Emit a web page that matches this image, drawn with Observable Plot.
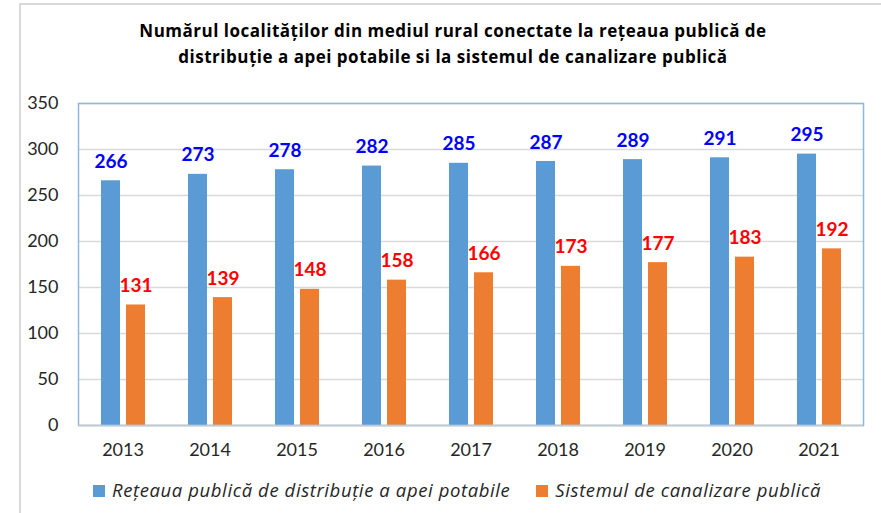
<!DOCTYPE html>
<html><head><meta charset="utf-8">
<script src="https://cdn.jsdelivr.net/npm/d3@7"></script>
<script src="https://cdn.jsdelivr.net/npm/@observablehq/plot@0.6"></script>
<style>
body{margin:0;background:#fff;font-family:Lato,sans-serif;}
#wrap{position:relative;width:881px;height:513px;overflow:hidden;background:#fff;}
#border{position:absolute;left:19px;top:3px;width:900px;height:560px;border:2px solid #d9d9d9;}
#title{position:absolute;left:0;width:906px;top:18px;text-align:center;font-family:"Open Sans",sans-serif;font-weight:bold;font-size:17px;letter-spacing:0.5px;line-height:26px;color:#000;}
#chart{position:absolute;left:0;top:88px;}
#legend{position:absolute;top:477px;left:93px;font-family:"Open Sans",sans-serif;font-style:italic;font-size:18.5px;letter-spacing:0.6px;color:#262626;white-space:nowrap;}
.sw{display:inline-block;width:12px;height:12px;margin-right:7px;vertical-align:0px;}
.item{margin-right:26px;}
</style>
</head><body>
<div id="wrap">
<div id="border"></div>
<div id="title">Numărul localităților din mediul rural conectate la rețeaua publică de<br>distribuție a apei potabile si la sistemul de canalizare publică</div>
<div id="chart"></div>
<div id="legend"></div>
</div>
<script>
const years = ["2013","2014","2015","2016","2017","2018","2019","2020","2021"];
const retea = [266,273,278,282,285,287,289,291,295];
const canal = [131,139,148,158,166,173,177,183,192];
const seriesNames = ["Rețeaua publică de distribuție a apei potabile","Sistemul de canalizare publică"];
const seriesColors = ["#5b9bd5","#ed7d31"];
const labelColors = ["#0000ff","#ff0000"];
const yTicks = [0,50,100,150,200,250,300,350];

const dataA = years.map((y,i)=>({year:y, value:retea[i]}));
const dataB = years.map((y,i)=>({year:y, value:canal[i]}));

const chart = Plot.plot({
  width: 881,
  height: 385,
  marginTop: 15,
  marginBottom: 48,
  marginLeft: 78,
  marginRight: 18,
  style: {fontFamily: "Lato, sans-serif", fontSize: "18px", color: "#262626", background: "transparent"},
  x: {domain: years, padding: 0, tickSize: 0, tickPadding: 18, label: null},
  y: {domain: [0,350], ticks: yTicks, tickSize: 0, tickPadding: 20, label: null},
  marks: [
    Plot.ruleY(yTicks, {stroke: "#d9d9d9", strokeWidth: 1.5}),
    Plot.barY(dataA, {x: "year", y: "value", fill: seriesColors[0], insetLeft: 22, insetRight: 46}),
    Plot.barY(dataB, {x: "year", y: "value", fill: seriesColors[1], insetLeft: 47, insetRight: 21}),
    Plot.text(dataA, {x: "year", y: "value", text: d => String(d.value), dx: -12, dy: -19, fill: labelColors[0], fontWeight: "bold", fontSize: 19}),
    Plot.text(dataB, {x: "year", y: "value", text: d => String(d.value), dx: 13, dy: -19, fill: labelColors[1], fontWeight: "bold", fontSize: 19}),
    Plot.frame({stroke: "#8ab8e2", strokeWidth: 1.5}),
    Plot.ruleY([0], {stroke: "#c8c8c8", strokeWidth: 1.5})
  ]
});
document.getElementById("chart").appendChild(chart);

const legend = document.getElementById("legend");
seriesNames.forEach((n,i)=>{
  const s = document.createElement("span");
  s.className = "item";
  s.innerHTML = `<span class="sw" style="background:${seriesColors[i]}"></span>${n}`;
  legend.appendChild(s);
});
</script>
</body></html>
